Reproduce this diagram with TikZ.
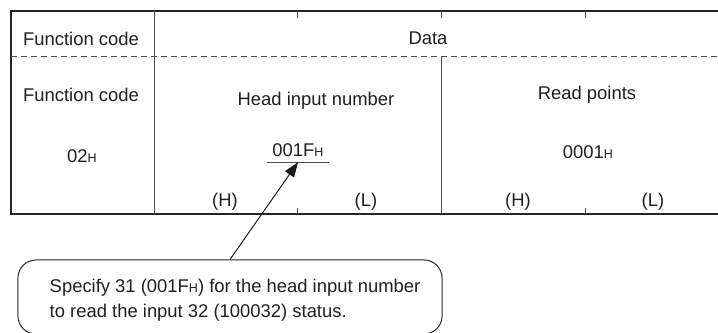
\documentclass[tikz,border=0pt]{standalone}
\usepackage{fontspec}
\setmainfont{Liberation Sans}
\usepackage{tikz}
\usetikzlibrary{positioning,arrows.meta}
\newcommand{\hexsub}{{\fontsize{8.9}{8.9}\selectfont H}}
\tikzset{
    cell text/.style={
        anchor=base,
        inner sep=0pt,
        font=\fontsize{13.1}{15.7}\selectfont,
        text=black!88
    },
    note text/.style={
        inner sep=0pt,
        align=left,
        font=\fontsize{13.1}{17.7}\selectfont,
        text=black!88
    },
    frame line/.style={
        line width=1.4pt,
        draw=black!85
    },
    grid line/.style={
        line width=0.6pt,
        draw=black!70
    },
    note box/.style={
        draw=black!85,
        line width=0.7pt,
        rounded corners=0.45cm,
        minimum width=10.6cm,
        minimum height=1.85cm
    },
    pointer/.style={
        -{Triangle[length=3.7mm,width=2.7mm]},
        line width=0.7pt,
        draw=black!90
    }
}

\begin{document}
\begin{tikzpicture}[x=0.025cm,y=-0.025cm]
    \useasboundingbox (0,0) rectangle (718,333);
    \draw[frame line] (718,11) -- (11,11) -- (11,214) -- (718,214);
    \draw[grid line,dash pattern=on 0.15cm off 0.1cm] (11,56) -- (718,56);
    \draw[grid line] (154,11) -- (154,214);
    \draw[grid line] (441,56) -- (441,214);
    \draw[grid line] (441,11) -- (441,18);
    \foreach \x in {297,585}{
      \draw[grid line] (\x,11) -- (\x,18);
      \draw[grid line] (\x,208) -- (\x,214);
    }

    \node[cell text] (fchead) at (81,46) {Function code};
    \node[cell text] (data) at (428,45) {Data};
    \node[cell text] (fcname) at (81,102) {Function code};
    \node[cell text] (headname) at (316,106) {Head input number};
    \node[cell text] (readname) at (587,100) {Read points};
    \node[cell text] (fcval) at (82,163) {02\hexsub};
    \node[cell text, inner ysep=3.5pt, text depth=0pt, minimum width=1.55cm] (headval) at (298,157) {001F\hexsub};
    \draw[grid line] (headval.south west) -- (headval.south east);
    \node[cell text] (readval) at (588,159) {0001\hexsub};
    \foreach \x/\t in {225/H,366/L,518/H,653/L}
      \node[cell text] (byte\t\x) at (\x,207) {(\t)};

    \node[note box] (note) at (230,297) {};
    \node[note text, right=0.8cm of note.west, yshift=-0.075cm] (notetext)
      {Specify 31 (001F\hexsub) for the head input number\\to read the input 32 (100032) status.};
    \draw[pointer] (note.north) -- (headval.south);
\end{tikzpicture}
\end{document}
